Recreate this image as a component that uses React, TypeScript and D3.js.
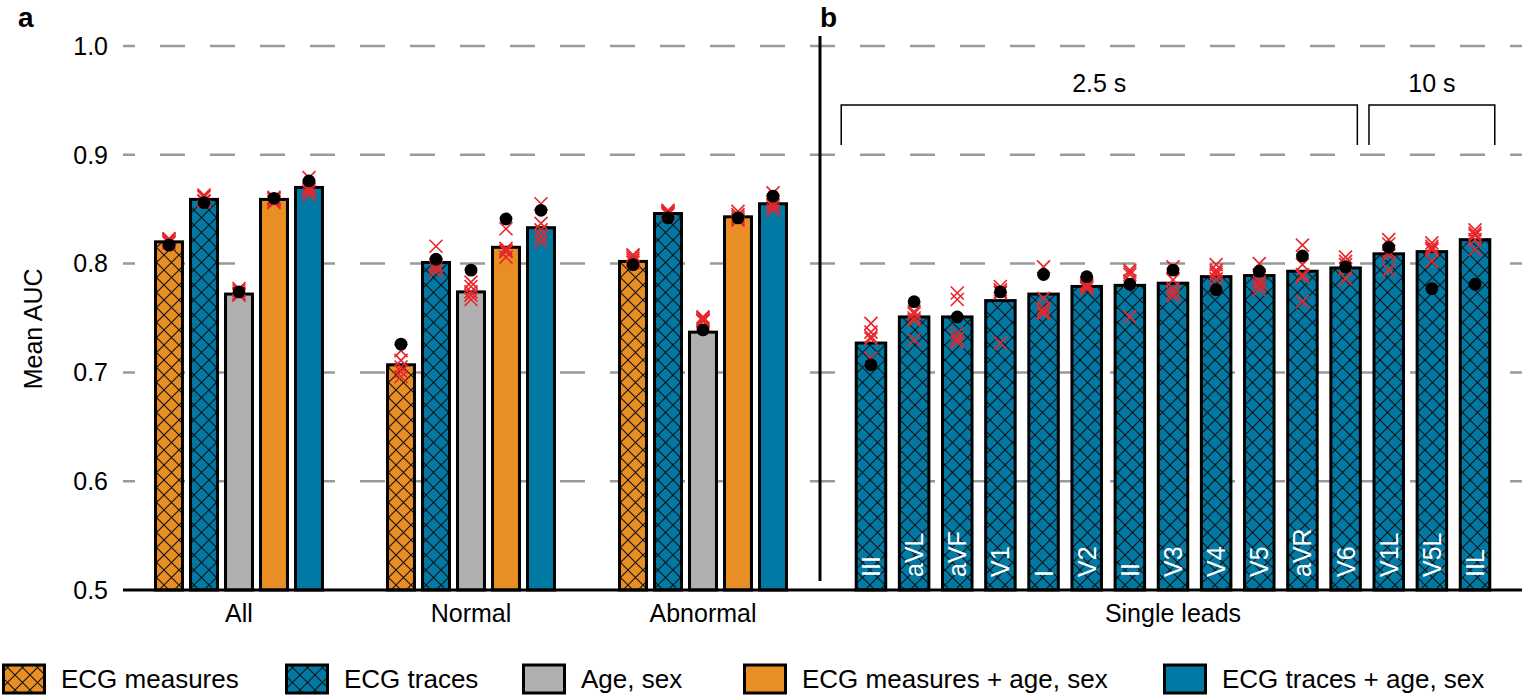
import { useEffect, useRef } from "react";
import * as d3 from "d3";

const groups = ["All", "Normal", "Abnormal"];
const models = [
  "ECG measures",
  "ECG traces",
  "Age, sex",
  "ECG measures + age, sex",
  "ECG traces + age, sex",
];

// bar heights (mean AUC) per model, in group order
const measuresMean = [0.82, 0.707, 0.802];
const tracesMean = [0.859, 0.801, 0.846];
const ageSexMean = [0.772, 0.774, 0.737];
const measuresAgeSexMean = [0.859, 0.815, 0.843];
const tracesAgeSexMean = [0.87, 0.833, 0.855];

// black dots
const measuresDot = [0.817, 0.726, 0.799];
const tracesDot = [0.856, 0.804, 0.842];
const ageSexDot = [0.774, 0.794, 0.739];
const measuresAgeSexDot = [0.86, 0.841, 0.842];
const tracesAgeSexDot = [0.876, 0.849, 0.862];

// red crosses (one per fold)
const measuresFolds = [
  [0.823, 0.822, 0.82, 0.819, 0.821],
  [0.72, 0.711, 0.705, 0.701, 0.696],
  [0.808, 0.805, 0.803, 0.807, 0.801],
];
const tracesFolds = [
  [0.862, 0.861, 0.858, 0.863, 0.857],
  [0.816, 0.799, 0.796, 0.793, 0.798],
  [0.849, 0.848, 0.846, 0.845, 0.847],
];
const ageSexFolds = [
  [0.773, 0.777, 0.771, 0.775, 0.772],
  [0.783, 0.779, 0.774, 0.771, 0.767],
  [0.751, 0.748, 0.747, 0.75, 0.749],
];
const measuresAgeSexFolds = [
  [0.861, 0.857, 0.859, 0.856, 0.86],
  [0.832, 0.814, 0.811, 0.806, 0.812],
  [0.848, 0.843, 0.84, 0.845, 0.841],
];
const tracesAgeSexFolds = [
  [0.879, 0.868, 0.863, 0.866, 0.87],
  [0.855, 0.837, 0.831, 0.825, 0.82],
  [0.865, 0.852, 0.849, 0.857, 0.854],
];

const leads = ["III", "aVL", "aVF", "V1", "I", "V2", "II", "V3", "V4", "V5", "aVR", "V6", "V1L", "V5L", "IIL"];
const leadMean = [0.727, 0.751, 0.751, 0.766, 0.772, 0.779, 0.78, 0.782, 0.788, 0.789, 0.793, 0.796, 0.809, 0.811, 0.822];
const leadDot = [0.707, 0.765, 0.751, 0.774, 0.79, 0.788, 0.781, 0.794, 0.776, 0.793, 0.807, 0.797, 0.815, 0.777, 0.781];
const leadFolds = [
  [0.745, 0.737, 0.733, 0.731, 0.713],
  [0.756, 0.75, 0.748, 0.754, 0.73],
  [0.773, 0.767, 0.736, 0.731, 0.728],
  [0.779, 0.776, 0.774, 0.773, 0.727],
  [0.797, 0.768, 0.759, 0.756, 0.754],
  [0.782, 0.78, 0.779, 0.778, 0.777],
  [0.794, 0.792, 0.79, 0.784, 0.751],
  [0.797, 0.785, 0.777, 0.773, 0.77],
  [0.799, 0.794, 0.792, 0.79, 0.786],
  [0.8, 0.787, 0.783, 0.78, 0.776],
  [0.817, 0.799, 0.79, 0.788, 0.765],
  [0.806, 0.802, 0.799, 0.795, 0.786],
  [0.822, 0.818, 0.811, 0.808, 0.794],
  [0.819, 0.816, 0.814, 0.8125, 0.802],
  [0.831, 0.828, 0.826, 0.822, 0.813],
];

const yTicks = [0.5, 0.6, 0.7, 0.8, 0.9, 1.0];

const means = [measuresMean, tracesMean, ageSexMean, measuresAgeSexMean, tracesAgeSexMean];
const dots = [measuresDot, tracesDot, ageSexDot, measuresAgeSexDot, tracesAgeSexDot];
const folds = [measuresFolds, tracesFolds, ageSexFolds, measuresAgeSexFolds, tracesAgeSexFolds];

const ORANGE = "#e88e24";
const TEAL = "#007aa5";
const GRAY = "#b0b0b0";
const RED = "#e8262c";
const FONT = "'Liberation Sans', Arial, sans-serif";

const fills = ["url(#hatch-orange)", "url(#hatch-teal)", GRAY, ORANGE, TEAL];

export default function App() {
  const svgRef = useRef<SVGSVGElement>(null);

  useEffect(() => {
    if (!svgRef.current) return;
    const svg = d3.select(svgRef.current);
    svg.selectAll("*").remove();

    const width = 1522;
    const height = 696;
    svg.attr("width", width).attr("height", height);

    // hatch patterns
    const defs = svg.append("defs");
    [
      ["hatch-orange", ORANGE],
      ["hatch-teal", TEAL],
    ].forEach(([id, color]) => {
      const p = defs
        .append("pattern")
        .attr("id", id)
        .attr("patternUnits", "userSpaceOnUse")
        .attr("width", 15)
        .attr("height", 15);
      p.append("rect").attr("width", 15).attr("height", 15).attr("fill", color);
      p.append("path")
        .attr("d", "M0,0L15,15M15,0L0,15M-1,14L1,16M14,-1L16,1")
        .attr("stroke", "#111")
        .attr("stroke-width", 1.1);
    });

    const y = d3.scaleLinear().domain([0.5, 1.0]).range([590, 46]);

    const xGroup = d3.scaleBand<string>().domain(groups).range([123, 819]);
    const xModel = d3
      .scaleBand<string>()
      .domain(models)
      .range([-87.5, 87.5])
      .paddingInner(0.23)
      .paddingOuter(0.115);
    const xLead = d3
      .scaleBand<string>()
      .domain(leads)
      .range([849.4, 1496.6])
      .paddingInner(0.316)
      .paddingOuter(0.158);

    // gridlines
    svg
      .append("g")
      .selectAll("line")
      .data(yTicks.filter((t) => t > 0.5))
      .join("line")
      .attr("x1", 123)
      .attr("x2", width)
      .attr("y1", (d) => y(d))
      .attr("y2", (d) => y(d))
      .attr("stroke", "#999")
      .attr("stroke-width", 2.5)
      .attr("stroke-dasharray", "25,25")
      .attr("stroke-dashoffset", 13);

    // y tick labels
    svg
      .append("g")
      .selectAll("text")
      .data(yTicks)
      .join("text")
      .attr("x", 108)
      .attr("y", (d) => y(d))
      .attr("dy", "0.35em")
      .attr("text-anchor", "end")
      .style("font-family", FONT)
      .style("font-size", "25px")
      .text((d) => d.toFixed(1));

    svg
      .append("text")
      .attr("transform", `translate(42,${y(0.74)}) rotate(-90)`)
      .attr("text-anchor", "middle")
      .style("font-family", FONT)
      .style("font-size", "25px")
      .text("Mean AUC");

    // panel a bars
    const gA = svg.append("g");
    groups.forEach((grp, gi) => {
      const cx = (xGroup(grp) ?? 0) + xGroup.bandwidth() / 2;
      const g = gA.append("g").attr("transform", `translate(${cx},0)`);
      models.forEach((m, mi) => {
        const x0 = xModel(m) ?? 0;
        const w = xModel.bandwidth();
        g.append("rect")
          .attr("x", x0)
          .attr("y", y(means[mi][gi]))
          .attr("width", w)
          .attr("height", y(0.5) - y(means[mi][gi]))
          .attr("fill", fills[mi])
          .attr("stroke", "#000")
          .attr("stroke-width", 3);
        g.selectAll(null)
          .data(folds[mi][gi])
          .join("path")
          .attr("transform", (d) => `translate(${x0 + w / 2},${y(d)})`)
          .attr("d", "M-6.5,-6.5L6.5,6.5M-6.5,6.5L6.5,-6.5")
          .attr("stroke", RED)
          .attr("stroke-width", 1.6)
          .attr("fill", "none");
        g.append("circle")
          .attr("cx", x0 + w / 2)
          .attr("cy", y(dots[mi][gi]))
          .attr("r", 6.4)
          .attr("fill", "#000");
      });
      svg
        .append("text")
        .attr("x", cx)
        .attr("y", 622)
        .attr("text-anchor", "middle")
        .style("font-family", FONT)
        .style("font-size", "25px")
        .text(grp);
    });

    // panel b bars
    const gB = svg.append("g");
    leads.forEach((lead, li) => {
      const x0 = xLead(lead) ?? 0;
      const w = xLead.bandwidth();
      const cx = x0 + w / 2;
      gB.append("rect")
        .attr("x", x0)
        .attr("y", y(leadMean[li]))
        .attr("width", w)
        .attr("height", y(0.5) - y(leadMean[li]))
        .attr("fill", "url(#hatch-teal)")
        .attr("stroke", "#000")
        .attr("stroke-width", 3);
      gB.append("text")
        .attr("transform", `translate(${cx},577) rotate(-90)`)
        .attr("dy", "0.36em")
        .attr("fill", "#fff")
        .style("font-family", FONT)
        .style("font-size", "25px")
        .text(lead);
      gB.selectAll(null)
        .data(leadFolds[li])
        .join("path")
        .attr("transform", (d) => `translate(${cx},${y(d)})`)
        .attr("d", "M-6.5,-6.5L6.5,6.5M-6.5,6.5L6.5,-6.5")
        .attr("stroke", RED)
        .attr("stroke-width", 1.6)
        .attr("fill", "none");
      gB.append("circle")
        .attr("cx", cx)
        .attr("cy", y(leadDot[li]))
        .attr("r", 6.4)
        .attr("fill", "#000");
    });

    const first = xLead(leads[0]) ?? 0;
    const lastEnd = (xLead(leads[leads.length - 1]) ?? 0) + xLead.bandwidth();
    svg
      .append("text")
      .attr("x", (first + lastEnd) / 2)
      .attr("y", 622)
      .attr("text-anchor", "middle")
      .style("font-family", FONT)
      .style("font-size", "25px")
      .text("Single leads");

    // brackets for recording length
    const brackets = [
      { label: "2.5 s", x1: first - 15, x2: (xLead("V6") ?? 0) + xLead.bandwidth() - 3 },
      { label: "10 s", x1: (xLead("V1L") ?? 0) - 5, x2: lastEnd + 5 },
    ];
    brackets.forEach((b) => {
      svg
        .append("path")
        .attr("d", `M${b.x1},145V105H${b.x2}V145`)
        .attr("fill", "none")
        .attr("stroke", "#000")
        .attr("stroke-width", 1.5);
      svg
        .append("text")
        .attr("x", (b.x1 + b.x2) / 2)
        .attr("y", 92)
        .attr("text-anchor", "middle")
        .style("font-family", FONT)
        .style("font-size", "25px")
        .text(b.label);
    });

    // axis baseline and panel divider
    svg
      .append("line")
      .attr("x1", 123)
      .attr("x2", width)
      .attr("y1", y(0.5))
      .attr("y2", y(0.5))
      .attr("stroke", "#000")
      .attr("stroke-width", 3);
    svg
      .append("line")
      .attr("x1", 820)
      .attr("x2", 820)
      .attr("y1", 36)
      .attr("y2", 581)
      .attr("stroke", "#000")
      .attr("stroke-width", 3);

    // panel letters
    [
      ["a", 18],
      ["b", 820],
    ].forEach(([t, x]) => {
      svg
        .append("text")
        .attr("x", x as number)
        .attr("y", 27)
        .style("font-family", FONT)
        .style("font-size", "28px")
        .style("font-weight", "bold")
        .text(t as string);
    });

    // legend
    const legendX = [2, 285, 522, 743, 1163];
    const legend = svg.append("g");
    models.forEach((m, mi) => {
      legend
        .append("rect")
        .attr("x", legendX[mi] + 1.5)
        .attr("y", 665)
        .attr("width", 41)
        .attr("height", 28)
        .attr("fill", fills[mi])
        .attr("stroke", "#000")
        .attr("stroke-width", 3);
      legend
        .append("text")
        .attr("x", legendX[mi] + 59)
        .attr("y", 688)
        .style("font-family", FONT)
        .style("font-size", "26px")
        .text(m);
    });
  }, []);

  return (
    <svg
      ref={svgRef}
      style={{ position: "absolute", left: 0, top: 0, display: "block", background: "#fff" }}
    />
  );
}
